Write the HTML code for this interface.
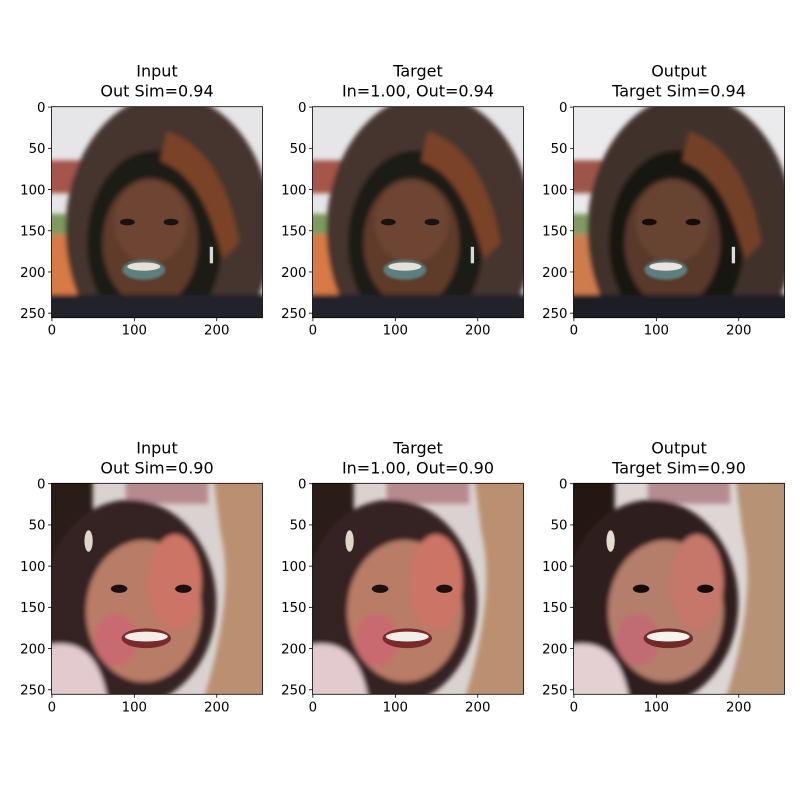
<!DOCTYPE html>
<html><head><meta charset="utf-8"><style>
html,body{margin:0;padding:0;background:#fff;}
svg{display:block;font-family:"DejaVu Sans","Liberation Sans",sans-serif;}
</style></head><body>
<svg id="fig" width="800" height="800" viewBox="0 0 800 800">
<defs>
<filter id="blur2" x="-20%" y="-20%" width="140%" height="140%"><feGaussianBlur stdDeviation="3"/></filter>
<filter id="blur1" x="-20%" y="-20%" width="140%" height="140%"><feGaussianBlur stdDeviation="1.5"/></filter>
<clipPath id="clipimg"><rect x="0" y="0" width="256" height="256"/></clipPath>
<g id="face1">
  <rect x="-20" y="-20" width="296" height="296" fill="#e6e6e8"/>
  <g filter="url(#blur2)">
  <rect x="-20" y="65" width="60" height="40" fill="#a5554a"/>
  <rect x="-20" y="130" width="60" height="25" fill="#7d9a5f"/>
  <rect x="-20" y="155" width="60" height="100" fill="#d77a45"/>
  <ellipse cx="142" cy="150" rx="125" ry="165" fill="#45362d"/>
  <ellipse cx="125" cy="165" rx="82" ry="112" fill="#1f1a18"/>
  <ellipse cx="120" cy="165" rx="58" ry="78" fill="#5e3a2a"/>
  <ellipse cx="120" cy="140" rx="45" ry="50" fill="#6d4433"/>
  <path d="M140 30 C185 45 215 90 228 165 L208 185 C192 120 170 80 132 66 Z" fill="#7a4228"/>
  <rect x="-20" y="228" width="296" height="48" fill="#22222a"/>
  </g>
  <ellipse cx="112" cy="198" rx="26" ry="12" fill="#5a8080" filter="url(#blur1)"/>
  <ellipse cx="112" cy="194" rx="20" ry="5" fill="#e8e0d8"/>
  <ellipse cx="92" cy="140" rx="9" ry="4" fill="#1a1210"/>
  <ellipse cx="145" cy="140" rx="9" ry="4" fill="#1a1210"/>
  <rect x="192" y="170" width="4" height="20" fill="#d8d8d8"/>
</g>
<g id="face2">
  <rect x="-20" y="-20" width="296" height="296" fill="#d9d2d0"/>
  <g filter="url(#blur2)">
  <rect x="-20" y="-20" width="70" height="296" fill="#2a1a16"/>
  <rect x="90" y="-20" width="100" height="45" fill="#b78a90"/>
  <path d="M195 -20 L276 -20 L276 276 L180 276 C205 200 220 120 205 60 Z" fill="#bb9070"/>
  <ellipse cx="95" cy="145" rx="105" ry="125" fill="#362220"/>
  <ellipse cx="112" cy="155" rx="70" ry="86" fill="#b97c66"/>
  <ellipse cx="150" cy="120" rx="32" ry="58" fill="#cc7466"/>
  <ellipse cx="78" cy="190" rx="26" ry="32" fill="#c86a70"/>
  <path d="M-20 200 C30 185 60 200 70 276 L-20 276 Z" fill="#e2cace"/>
  </g>
  <ellipse cx="115" cy="188" rx="30" ry="12" fill="#7a2a2a"/>
  <ellipse cx="115" cy="186" rx="26" ry="6" fill="#f2eee8"/>
  <ellipse cx="82" cy="128" rx="10" ry="5" fill="#1a100e"/>
  <ellipse cx="160" cy="128" rx="10" ry="5" fill="#1a100e"/>
  <ellipse cx="45" cy="70" rx="5" ry="13" fill="#ddd8c8"/>
</g>
</defs>
<g id="axesroot"></g>
</svg>
<script>
const titlesTop = ["Input", "Target", "Output"];
const titlesRow1 = ["Out Sim=0.94", "In=1.00, Out=0.94", "Target Sim=0.94"];
const titlesRow2 = ["Out Sim=0.90", "In=1.00, Out=0.90", "Target Sim=0.90"];
const xTicks = [0, 100, 200];
const yTicks = [0, 50, 100, 150, 200, 250];
const imgSize = [256, 256];
const colLeft = [51.5, 312.5, 573.5];
const rowTop = [106.7, 483.3];
const axW = 211, axH = 211;
const NS = "http://www.w3.org/2000/svg";
const root = document.getElementById('axesroot');
function mk(tag, attrs, parent){const e=document.createElementNS(NS,tag);for(const k in attrs)e.setAttribute(k,attrs[k]);parent.appendChild(e);return e;}
const faces = ["#face1", "#face2"];
for (let r=0;r<2;r++){
  for (let c=0;c<3;c++){
    const X0=colLeft[c], Y0=rowTop[r];
    const sx=axW/imgSize[0], sy=axH/imgSize[1];
    const xs = v => X0 + (v+0.5)*sx;
    const ys = v => Y0 + (v+0.5)*sy;
    const g = mk('g',{},root);
    
    
    const im = mk('g',{transform:`translate(${X0},${Y0}) scale(${sx},${sy})`,'clip-path':'url(#clipimg)'},g);
    
    
    const u = mk('use',{href:faces[r]},im);
    if (c===2){ u.setAttribute('style','filter:saturate(0.85) contrast(1.05)'); }
    const fr = mk('rect',{x:X0,y:Y0,width:axW,height:axH,fill:'none',stroke:'#000','stroke-width':0.8},g);
    
    
    xTicks.forEach(v=>{
      const x=xs(v);
      mk('line',{x1:x,x2:x,y1:Y0+axH,y2:Y0+axH+3.5,stroke:'#000','stroke-width':0.8},g);
      const t=mk('text',{x:x,y:Y0+axH+17,'text-anchor':'middle','font-size':'13.3px',fill:'#000'},g);
      t.textContent=v;
      
      
    });
    yTicks.forEach(v=>{
      const y=ys(v);
      mk('line',{x1:X0-3.5,x2:X0,y1:y,y2:y,stroke:'#000','stroke-width':0.8},g);
      const t=mk('text',{x:X0-6,y:y+4.8,'text-anchor':'end','font-size':'13.3px',fill:'#000'},g);
      t.textContent=v;
      
      
    });
    const cx=X0+axW/2;
    const t1=mk('text',{x:cx,y:Y0-30,'text-anchor':'middle','font-size':'16px',fill:'#000'},g);
    t1.textContent=titlesTop[c];
    
    
    const t2=mk('text',{x:cx,y:Y0-10,'text-anchor':'middle','font-size':'16px',fill:'#000'},g);
    t2.textContent=(r===0?titlesRow1:titlesRow2)[c];
    
    
  }
}
</script>
</body></html>
